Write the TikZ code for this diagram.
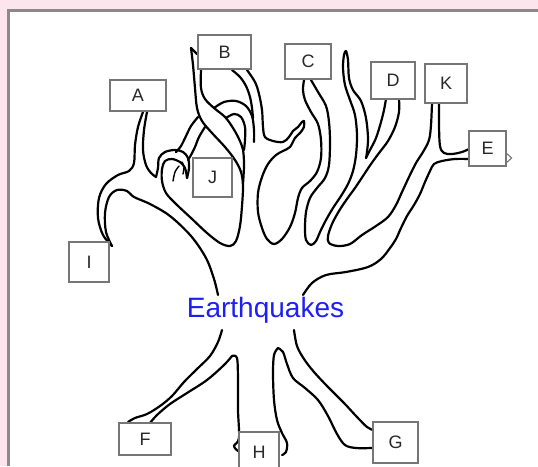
\documentclass[tikz,border=0pt]{standalone}
\usepackage{fontspec}
\setmainfont{Liberation Sans}
\definecolor{pagepink}{RGB}{252,229,237}
\definecolor{framegray}{RGB}{138,138,138}
\definecolor{boxgray}{RGB}{118,118,118}
\definecolor{tagtext}{RGB}{40,40,40}
\definecolor{quakeblue}{RGB}{30,30,245}
\begin{document}
\begin{tikzpicture}[x=1pt,y=-1pt,
  limb/.style={draw=black,line width=2.2pt,line cap=round,line join=round},
  claw/.style={draw=black,line width=1.4pt,line cap=round},
  tag/.style={draw=boxgray,fill=white,line width=1.3pt,inner sep=0pt,
    text=tagtext,font=\fontsize{18}{18}\selectfont},
  wavy/.style={smooth,tension=0.55}]
\useasboundingbox (0,0) rectangle (538,466);
% page and panel
\fill[pagepink] (0,0) rectangle (538,466);
\fill[white] (9,11) rectangle (538,466);
\draw[framegray,line width=2.6pt] (8.3,466) -- (8.3,10.3) -- (538,10.3);

% ---- crown: left side ----
% inner edge of branch I running into the trunk
\draw[limb] plot[wavy] coordinates {(218,295) (214,279) (206,258) (191,236) (170,216) (150,204) (134,197) (127,191) (117,190) (109,197) (105,213) (106,232) (112,246)};
% outer edge of branch I and left edge of branch A
\draw[limb] plot[wavy] coordinates {(112,246) (103,235) (98,218) (99,198) (106,184) (118,175) (129,171) (134,163) (135,145) (138,127) (143,112)};
% right edge of A down into the hook
\draw[limb] plot[wavy] coordinates {(147,112) (144,130) (143,150) (146,165) (151,173) (156,177)};
\draw[limb] plot[wavy] coordinates {(156,177) (158,168) (159,158) (165,152) (175,150) (183,152) (188,158) (189,168) (187,178)};
% hook inner edge, lobe beside J, and the long stroke left of B
\draw[limb] plot[wavy] coordinates {(187,178) (185,168) (180,162) (172,159) (165,161) (162,169) (162,181) (166,193) (176,204) (191,218) (207,233) (220,243) (230,246) (236,241) (240,226) (242,206) (243,186) (241,172) (235,160) (225,147) (212,133) (202,121) (197,108) (195,88) (193,65) (191,48)};
\draw[limb] (191,48) -- (197,54);
% twig joining the long stroke to the hook
\draw[limb] plot[wavy] coordinates {(198,117) (191,126) (186,136) (181,146) (176,152)};
\draw[limb] plot[wavy] coordinates {(205,127) (199,137) (195,147) (191,155) (188,160)};
% small marks inside the hook
\draw[claw] plot[wavy] coordinates {(173,181) (175,172) (179,166)};
\draw[claw] plot[wavy] coordinates {(183,174) (184,167) (182,162)};

% ---- crown: under B ----
\draw[limb] plot[wavy] coordinates {(201,70) (201,88) (205,99) (214,108) (225,117) (233,128) (239,139) (243,150) (244,165) (243,184)};
\draw[limb] plot[wavy] coordinates {(214,108) (224,102) (236,101) (246,106) (252,116) (254,130) (254,142)};
\draw[limb] plot[wavy] coordinates {(226,118) (234,114) (241,117) (245,127) (245,140) (244,150)};
\draw[limb] plot[wavy] coordinates {(232,70) (240,77) (246,86) (250,97) (252,108) (253,118)};
% right stroke of B, the bump, the lobe and left edge of C
\draw[limb] plot[wavy] coordinates {(247,70) (255,82) (259,94) (262,110) (263,127) (265,137) (273,141) (283,142) (289,137) (293,131) (298,127) (302,122) (304,121)};
\draw[limb] plot[wavy] coordinates {(304,121) (304,127) (300,133) (295,138) (290,147) (283,151) (276,155) (268,164) (262,177) (258,193) (258,212) (262,228) (267,239) (274,244) (282,239) (290,227) (295,213) (298,198) (302,188) (310,181) (317,172) (321,158) (321,140) (318,124) (311,112) (305,100) (303,90) (304,80)};

% ---- crown: C, the tall middle branch, D ----
\draw[limb] plot[wavy] coordinates {(311,80) (318,92) (326,106) (329,122) (330,142) (329,165) (325,178) (317,188) (310,198) (306,212) (305,228) (306,240) (311,245) (316,241) (320,232) (326,220) (333,208) (341,196) (348,184) (353,171) (356,155) (357,135) (355,115) (350,100) (345,85) (343,68) (344,55) (346,51) (348,60) (349,78) (353,90) (361,101) (366,118) (368,138) (367,152) (366,158)};
\draw[limb] plot[wavy] coordinates {(366,158) (370,150) (376,138) (381,122) (384,110) (386,99)};
\draw[limb] plot[wavy] coordinates {(399,99) (399,112) (395,127) (388,141) (379,153) (371,164) (363,176) (355,188) (347,199) (339,211) (332,224) (328,236) (329,243) (338,246) (350,244) (362,235) (376,226) (388,217) (396,205) (402,192) (409,177) (416,163) (423,152) (429,140) (431,125) (432,103)};

% ---- crown: K and E, right side of the trunk ----
\draw[limb] plot[wavy] coordinates {(439,103) (439,125) (440,146) (444,153) (452,154) (462,152) (469,149)};
\draw[limb] plot[wavy] coordinates {(469,159) (455,159) (442,161) (434,164) (430,171) (425,182) (420,194) (414,205) (407,216) (401,228) (396,239) (390,248) (381,259) (368,267) (346,272) (326,275) (312,283) (303,295)};

% ---- roots ----
\draw[limb] plot[wavy] coordinates {(222,330) (218,342) (210,356) (197,369) (184,382) (172,396) (160,406) (147,414) (135,418) (128,422)};
\draw[limb] plot[wavy] coordinates {(150,423) (157,415) (170,404) (187,393) (207,380) (224,365) (232,356)};
\draw[limb] plot[wavy] coordinates {(232,356) (237,358) (238,380) (238,410) (239,438) (234,446) (238,451)};
\draw[limb] plot[wavy] coordinates {(282,455) (286,452) (287,443) (282,433) (277,420) (274,400) (273,373) (274,355) (278,348)};
\draw[limb] plot[wavy] coordinates {(278,348) (283,352) (287,364) (293,378) (305,388) (318,400) (328,416) (337,434) (345,445) (356,448) (372,448)};
\draw[limb] plot[wavy] coordinates {(294,330) (297,346) (304,359) (314,372) (328,387) (344,403) (357,417) (367,427) (373,430)};

% ---- labels ----
\node[tag,minimum width=56pt,minimum height=31pt] (A) at (138,95.5) {A};
\node[tag,minimum width=53pt,minimum height=34pt] (B) at (224.5,52) {B};
\node[tag,minimum width=39pt,minimum height=39pt] (J) at (212.5,177.5) {J};
\node[tag,minimum width=46pt,minimum height=35pt] (C) at (308,61.5) {C};
\node[tag,minimum width=44pt,minimum height=37pt] (D) at (393,80.5) {D};
\node[tag,minimum width=42pt,minimum height=39pt] (K) at (446,83.5) {K};
\node[tag,minimum width=37pt,minimum height=35pt] (E) at (487.5,148.5) {E};
\node[tag,minimum width=40pt,minimum height=40pt] (I) at (89,262) {I};
\node[tag,minimum width=52pt,minimum height=32pt] (F) at (145,439) {F};
\node[tag,minimum width=40pt,minimum height=40pt] (H) at (259,452) {H};
\node[tag,minimum width=45pt,minimum height=41pt] (G) at (395.5,442.5) {G};
\draw[boxgray,line width=1.1pt,line join=miter] ([yshift=-5pt]E.east) -- ++(5,4.5) -- ++(-5,4.5);
\node[text=quakeblue,font=\fontsize{28}{28}\selectfont,anchor=base,inner sep=0pt] (title) at (265.5,317) {Earthquakes};
\end{tikzpicture}
\end{document}
